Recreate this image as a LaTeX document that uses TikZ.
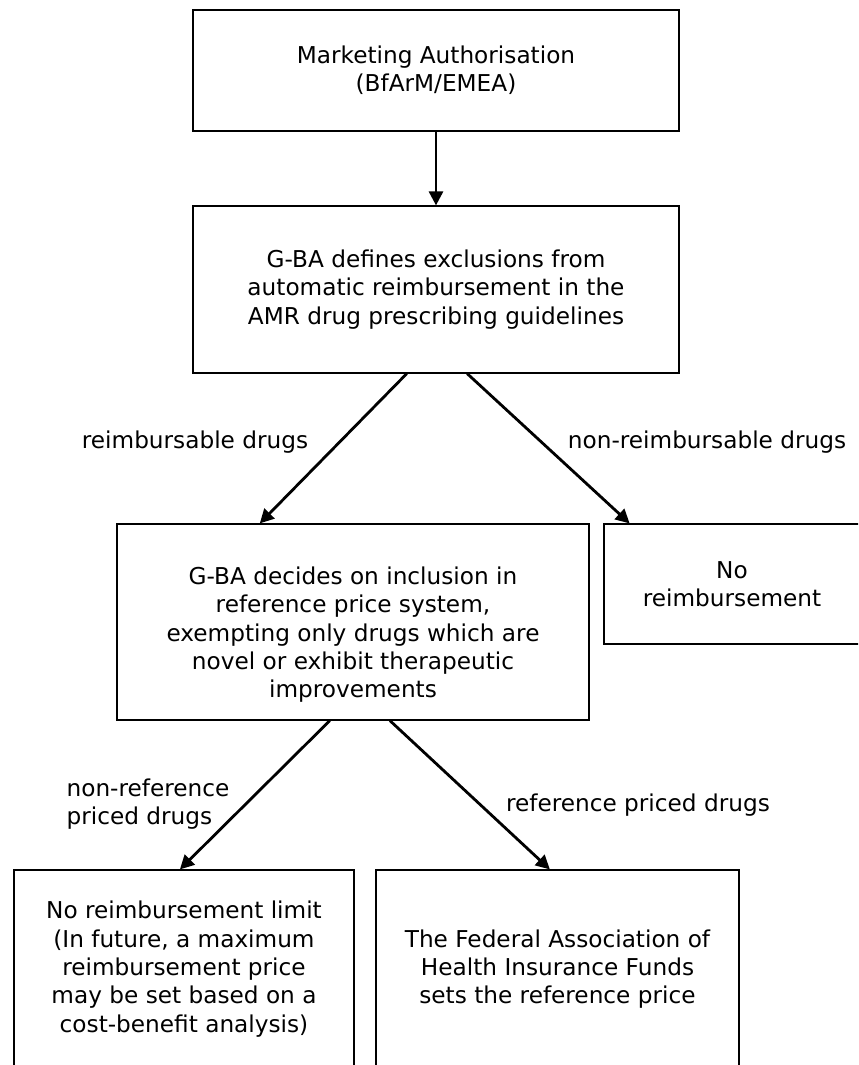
\documentclass[tikz,border=0pt]{standalone}
\usepackage{fontspec}
\setmainfont{DejaVu Sans}
\usepackage{tikz}
\usetikzlibrary{arrows.meta,calc}
\tikzset{
  stage/.style={draw,line width=0.6pt,align=center,inner sep=0pt,
    font=\fontsize{11.6}{14.2}\selectfont},
  flow/.style={line width=1.4pt,-{Triangle[length=7pt,width=7pt]}},
  branch/.style={font=\fontsize{11.6}{14.2}\selectfont,inner sep=0pt}
}

\begin{document}
\begin{tikzpicture}[x=0.5pt,y=-0.5pt]
    \useasboundingbox (0,0) rectangle (858,1065);
    \clip (0,0) rectangle (858,1065);

    \node[stage,minimum width=243pt,minimum height=60.5pt] (auth) at (436,70.5)
         {Marketing Authorisation\\(BfArM/EMEA)};
    \node[stage,minimum width=243pt,minimum height=83.5pt] (gba) at (436,289.5)
         {G-BA defines exclusions from\\automatic reimbursement in the\\AMR drug prescribing guidelines};
    \node[stage,minimum width=236pt,minimum height=98pt] (incl) at (353,622)
         {\rule{0pt}{21.5pt}G-BA decides on inclusion in\\reference price system,\\exempting only drugs which are\\novel or exhibit therapeutic\\improvements};
    \node[stage,minimum width=128pt,minimum height=60pt] (noreimb) at (732,584)
         {No\\reimbursement};
    \node[stage,minimum width=170pt,minimum height=99pt] (nolimit) at (184,969)
         {No reimbursement limit\\(In future, a maximum\\reimbursement price\\may be set based on a\\cost-benefit analysis)};
    \node[stage,minimum width=181.5pt,minimum height=99pt] (fed) at (557.5,969)
         {The Federal Association of\\Health Insurance Funds\\sets the reference price};

    \draw[flow] (auth) -- (gba);
    \draw[flow] ($(gba.south west)!.44!(gba.south east)$)
         -- ($(incl.north west)!.303!(incl.north east)$);
    \draw[flow] ($(gba.south west)!.564!(gba.south east)$)
         -- ($(noreimb.north west)!.102!(noreimb.north east)$);
    \draw[flow] ($(incl.south west)!.451!(incl.south east)$)
         -- ($(nolimit.north west)!.488!(nolimit.north east)$);
    \draw[flow] ($(incl.south west)!.578!(incl.south east)$)
         -- ($(fed.north west)!.479!(fed.north east)$);

    \node[branch] (reimb) at (195,442) {reimbursable drugs};
    \node[branch] (nonreimb) at (707,442) {non-reimbursable drugs};
    \node[branch,align=left] (nonref) at (148,804) {non-reference\\priced drugs};
    \node[branch] (refpriced) at (638,805) {reference priced drugs};
\end{tikzpicture}
\end{document}
